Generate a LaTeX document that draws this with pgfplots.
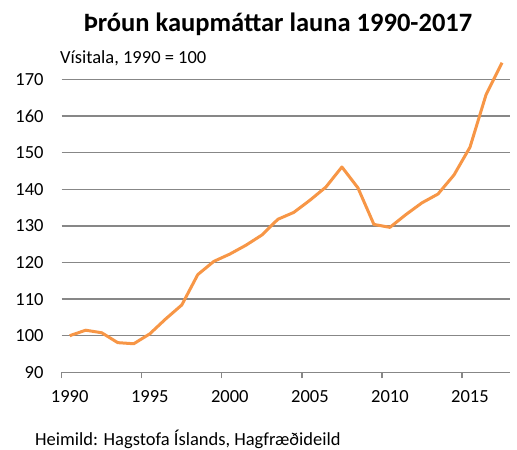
\documentclass[border=0pt]{standalone}
\usepackage{fontspec}
\setmainfont{Carlito}
\usepackage{pgfplots}
\pgfplotsset{compat=1.18}
\definecolor{lineorange}{HTML}{F79646}
\definecolor{gridgray}{HTML}{878787}
\begin{document}
\begin{tikzpicture}[x=1bp,y=1bp]
\path[use as bounding box] (0,0) rectangle (517,450);
\begin{axis}[
  at={(61.7bp,77.7bp)}, anchor=south west,
  scale only axis, width=448.3bp, height=311.1bp,
  xmin=1989.5, xmax=2017.5, ymin=90, ymax=175,
  axis line style={draw=none},
  axis x line*=bottom,
  x axis line style={draw=gridgray, line width=1.3bp},
  ytick={90,100,...,170},
  ymajorgrids, grid style={gridgray, line width=1.3bp},
  major tick length=0pt,
  xtick={1990,1995,2000,2005,2010,2015},
  xticklabels={1990,1995,2000,2005,2010,2015},
  extra x ticks={1989.5,1994.5,1999.5,2004.5,2009.5,2014.5},
  extra x tick labels={},
  extra x tick style={major tick length=6bp, tick align=outside, tick style={gridgray, line width=1.3bp}, grid=none},
  /pgf/number format/assume math mode=true,
  ticklabel style={font=\fontsize{18.5bp}{20bp}\selectfont, text=black},
  yticklabel style={anchor=east, inner sep=0pt, xshift=-18bp},
  xticklabel style={anchor=center, inner sep=0pt, yshift=-24bp},
  clip=false,
]
\addplot[lineorange, line width=3bp, line join=round] coordinates {
(1990,100) (1991,101.5) (1992,100.8) (1993,98.1) (1994,97.8)
(1995,100.5) (1996,104.6) (1997,108.4) (1998,116.7) (1999,120.3)
(2000,122.3) (2001,124.7) (2002,127.5) (2003,131.8) (2004,133.7)
(2005,137.0) (2006,140.6) (2007,146.1) (2008,140.4) (2009,130.4)
(2010,129.6) (2011,133.1) (2012,136.3) (2013,138.7) (2014,143.9)
(2015,151.5) (2016,165.8) (2017,174.6)
};
\end{axis}
\node[anchor=base, inner sep=0pt, font=\fontsize{26.5bp}{30bp}\selectfont\bfseries] at (278,418.3) {Þróun kaupmáttar launa 1990-2017};
\node[anchor=base west, inner sep=0pt, font=\fontsize{18.5bp}{20bp}\selectfont] at (60,386.7) {Vísitala, 1990 = 100};
\node[anchor=base west, inner sep=0pt, font=\fontsize{18.5bp}{20bp}\selectfont] at (35,4.5) {Heimild: Hagstofa Íslands, Hagfræðideild};
\end{tikzpicture}
\end{document}
